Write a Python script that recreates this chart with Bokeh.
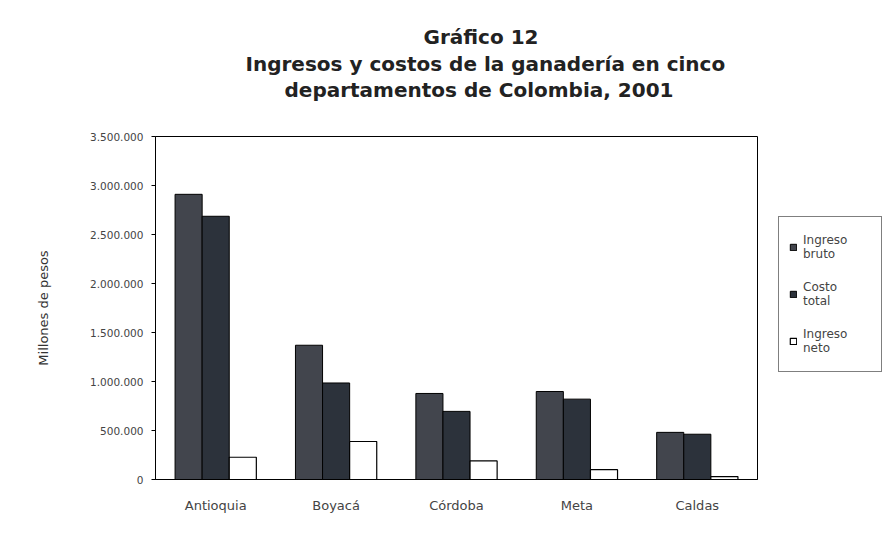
from bokeh.plotting import figure
from bokeh.models import (ColumnDataSource, FactorRange, Range1d, FixedTicker, Legend,
                          LegendItem, Title)
from bokeh.transform import dodge
from bokeh.embed import file_html
from bokeh.resources import INLINE

# ---- data ----
departamentos = ["Antioquia", "Boyacá", "Córdoba", "Meta", "Caldas"]
ingreso_bruto = [2910000, 1370000, 878000, 898000, 481000]
costo_total = [2686000, 985000, 695000, 820000, 462000]
ingreso_neto = [227000, 388000, 190000, 100000, 30000]
series_names = ["Ingreso\nbruto", "Costo\ntotal", "Ingreso\nneto"]
y_ticks = [0, 500000, 1000000, 1500000, 2000000, 2500000, 3000000, 3500000]
y_tick_labels = ["0", "500.000", "1.000.000", "1.500.000", "2.000.000",
                 "2.500.000", "3.000.000", "3.500.000"]
title_lines = ["Gráfico 12",
               "Ingresos y costos de la ganadería en cinco",
               "departamentos de Colombia, 2001"]
y_label = "Millones de pesos"

src = ColumnDataSource(dict(dep=departamentos, bruto=ingreso_bruto,
                            costo=costo_total, neto=ingreso_neto))

FONT = "DejaVu Sans"
p = figure(frame_width=602, frame_height=343, x_range=FactorRange(*departamentos),
           y_range=Range1d(0, 3500000), output_backend="svg",
           toolbar_location=None, min_border_left=155, min_border_right=124,
           min_border_top=136, min_border_bottom=52)
p.background_fill_color = "white"
p.border_fill_color = "white"
p.outline_line_color = "black"
p.outline_line_width = 1
p.grid.visible = False

bw = 0.225
r1 = p.vbar(x=dodge("dep", -bw, range=p.x_range), top="bruto", width=bw, source=src,
            fill_color="#42454d", line_color="black", line_width=1)
r2 = p.vbar(x=dodge("dep", 0, range=p.x_range), top="costo", width=bw, source=src,
            fill_color="#2c323b", line_color="black", line_width=1)
r3 = p.vbar(x=dodge("dep", bw, range=p.x_range), top="neto", width=bw, source=src,
            fill_color="white", line_color="black", line_width=1.2)

# axes
p.yaxis.ticker = FixedTicker(ticks=y_ticks)
p.yaxis.major_label_overrides = {t: l for t, l in zip(y_ticks, y_tick_labels)}
p.yaxis.minor_tick_line_color = None
p.yaxis.major_tick_out = 4
p.yaxis.major_tick_in = 0
p.yaxis.major_label_standoff = 8
p.yaxis.axis_label = y_label
p.yaxis.axis_label_standoff = 36
p.yaxis.axis_label_text_font = FONT
p.yaxis.axis_label_text_font_size = "13px"
p.yaxis.axis_label_text_font_style = "normal"
p.yaxis.axis_label_text_color = "#333333"
for ax in (p.xaxis, p.yaxis):
    ax.major_label_text_font = FONT
    ax.major_label_text_color = "#444444"
    ax.axis_line_color = "black"
    ax.major_tick_line_color = "black"
p.yaxis.major_label_text_font_size = "10.5px"
p.xaxis.major_label_text_font_size = "13px"
p.xaxis.major_tick_out = 0
p.xaxis.major_tick_in = 0
p.xaxis.major_label_standoff = 18
p.x_range.range_padding = 0
p.x_range.group_padding = 0

# legend
legend = Legend(items=[LegendItem(label=series_names[0], renderers=[r1]),
                       LegendItem(label=series_names[1], renderers=[r2]),
                       LegendItem(label=series_names[2], renderers=[r3])],
                location=(21, 107), orientation="vertical",
                label_text_font=FONT, label_text_font_size="12px",
                label_text_color="#444444", glyph_width=8, glyph_height=8,
                spacing=7, padding=10, margin=0, label_standoff=6,
                label_width=68, label_height=40,
                border_line_color="black", border_line_width=1,
                background_fill_color="white", background_fill_alpha=1)
p.add_layout(legend, "right")

# title: spacer nearest the frame, then the three lines stacked upward
p.add_layout(Title(text=" ", text_font_size="2px", standoff=31), "above")
title_specs = [(title_lines[2], 129, 0), (title_lines[1], 90, 0), (title_lines[0], 268, 2)]
for txt, off, so in title_specs:
    p.add_layout(Title(text=txt, align="left", offset=off, standoff=so,
                       text_font=FONT, text_font_style="bold", text_font_size="20px",
                       text_color="#222222"), "above")

open("out.html", "w").write(file_html(p, INLINE))
